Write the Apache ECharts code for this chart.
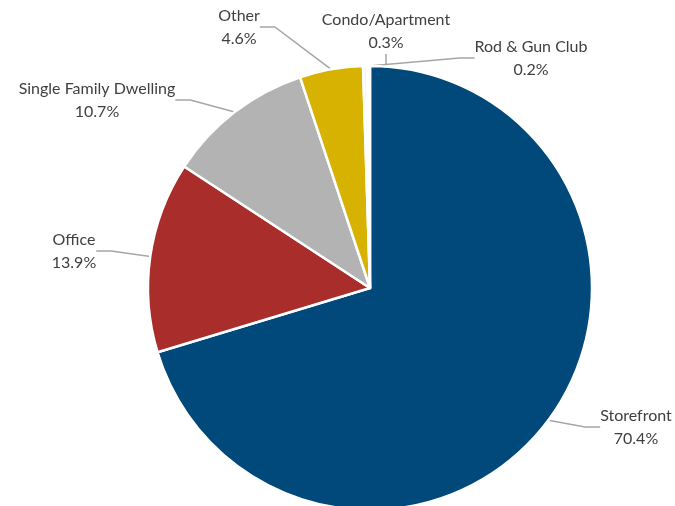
<!DOCTYPE html>
<html lang="en">
<head>
    <meta charset="UTF-8">
    <title>Property type</title>
    <script src="https://cdn.jsdelivr.net/npm/echarts@6/dist/echarts.min.js"></script>
    <style>html, body { margin: 0; padding: 0; background: #fff; }</style>
</head>
<body>
    <div id="main" style="width:675px; height:506px;"></div>
    <script type="text/javascript">
        var categories = ['Storefront', 'Office', 'Single Family Dwelling', 'Other', 'Condo/Apartment', 'Rod & Gun Club'];
        var shares = [70.4, 13.9, 10.7, 4.6, 0.3, 0.2];
        var colors = ['#00497A', '#A82D2B', '#B3B3B3', '#D7B200', '#F4F4F4', '#F4F4F4'];

        // where each label block sits (centre of the two text lines)
        var labelSpots = [[636, 427], [74, 251], [97, 100], [239, 27], [386, 31], [531, 58]];

        var myChart = echarts.init(document.getElementById('main'));

        var pieData = categories.map(function (name, i) {
            return { name: name, value: shares[i], itemStyle: { color: colors[i] } };
        });

        myChart.setOption({
            backgroundColor: '#fff',
            animation: false,
            series: [{
                type: 'pie',
                center: [370, 288],
                radius: [0, 222],
                startAngle: 90,
                clockwise: true,
                data: pieData,
                itemStyle: { borderColor: '#fff', borderWidth: 2.5 },
                label: {
                    show: true,
                    position: 'outside',
                    formatter: function (p) { return p.name + '\n' + p.value.toFixed(1) + '%'; },
                    color: '#404040',
                    fontSize: 16,
                    fontFamily: 'Lato, sans-serif',
                    lineHeight: 23,
                    align: 'center',
                    overflow: 'none'
                },
                labelLine: {
                    show: true,
                    length: 15,
                    length2: 15,
                    lineStyle: { color: '#A6A6A6', width: 1.5 }
                },
                labelLayout: function (params) {
                    var spot = labelSpots[params.dataIndex];
                    return {
                        x: spot[0],
                        y: spot[1],
                        align: 'center',
                        verticalAlign: 'middle'
                    };
                }
            }]
        });
    </script>
</body>
</html>
